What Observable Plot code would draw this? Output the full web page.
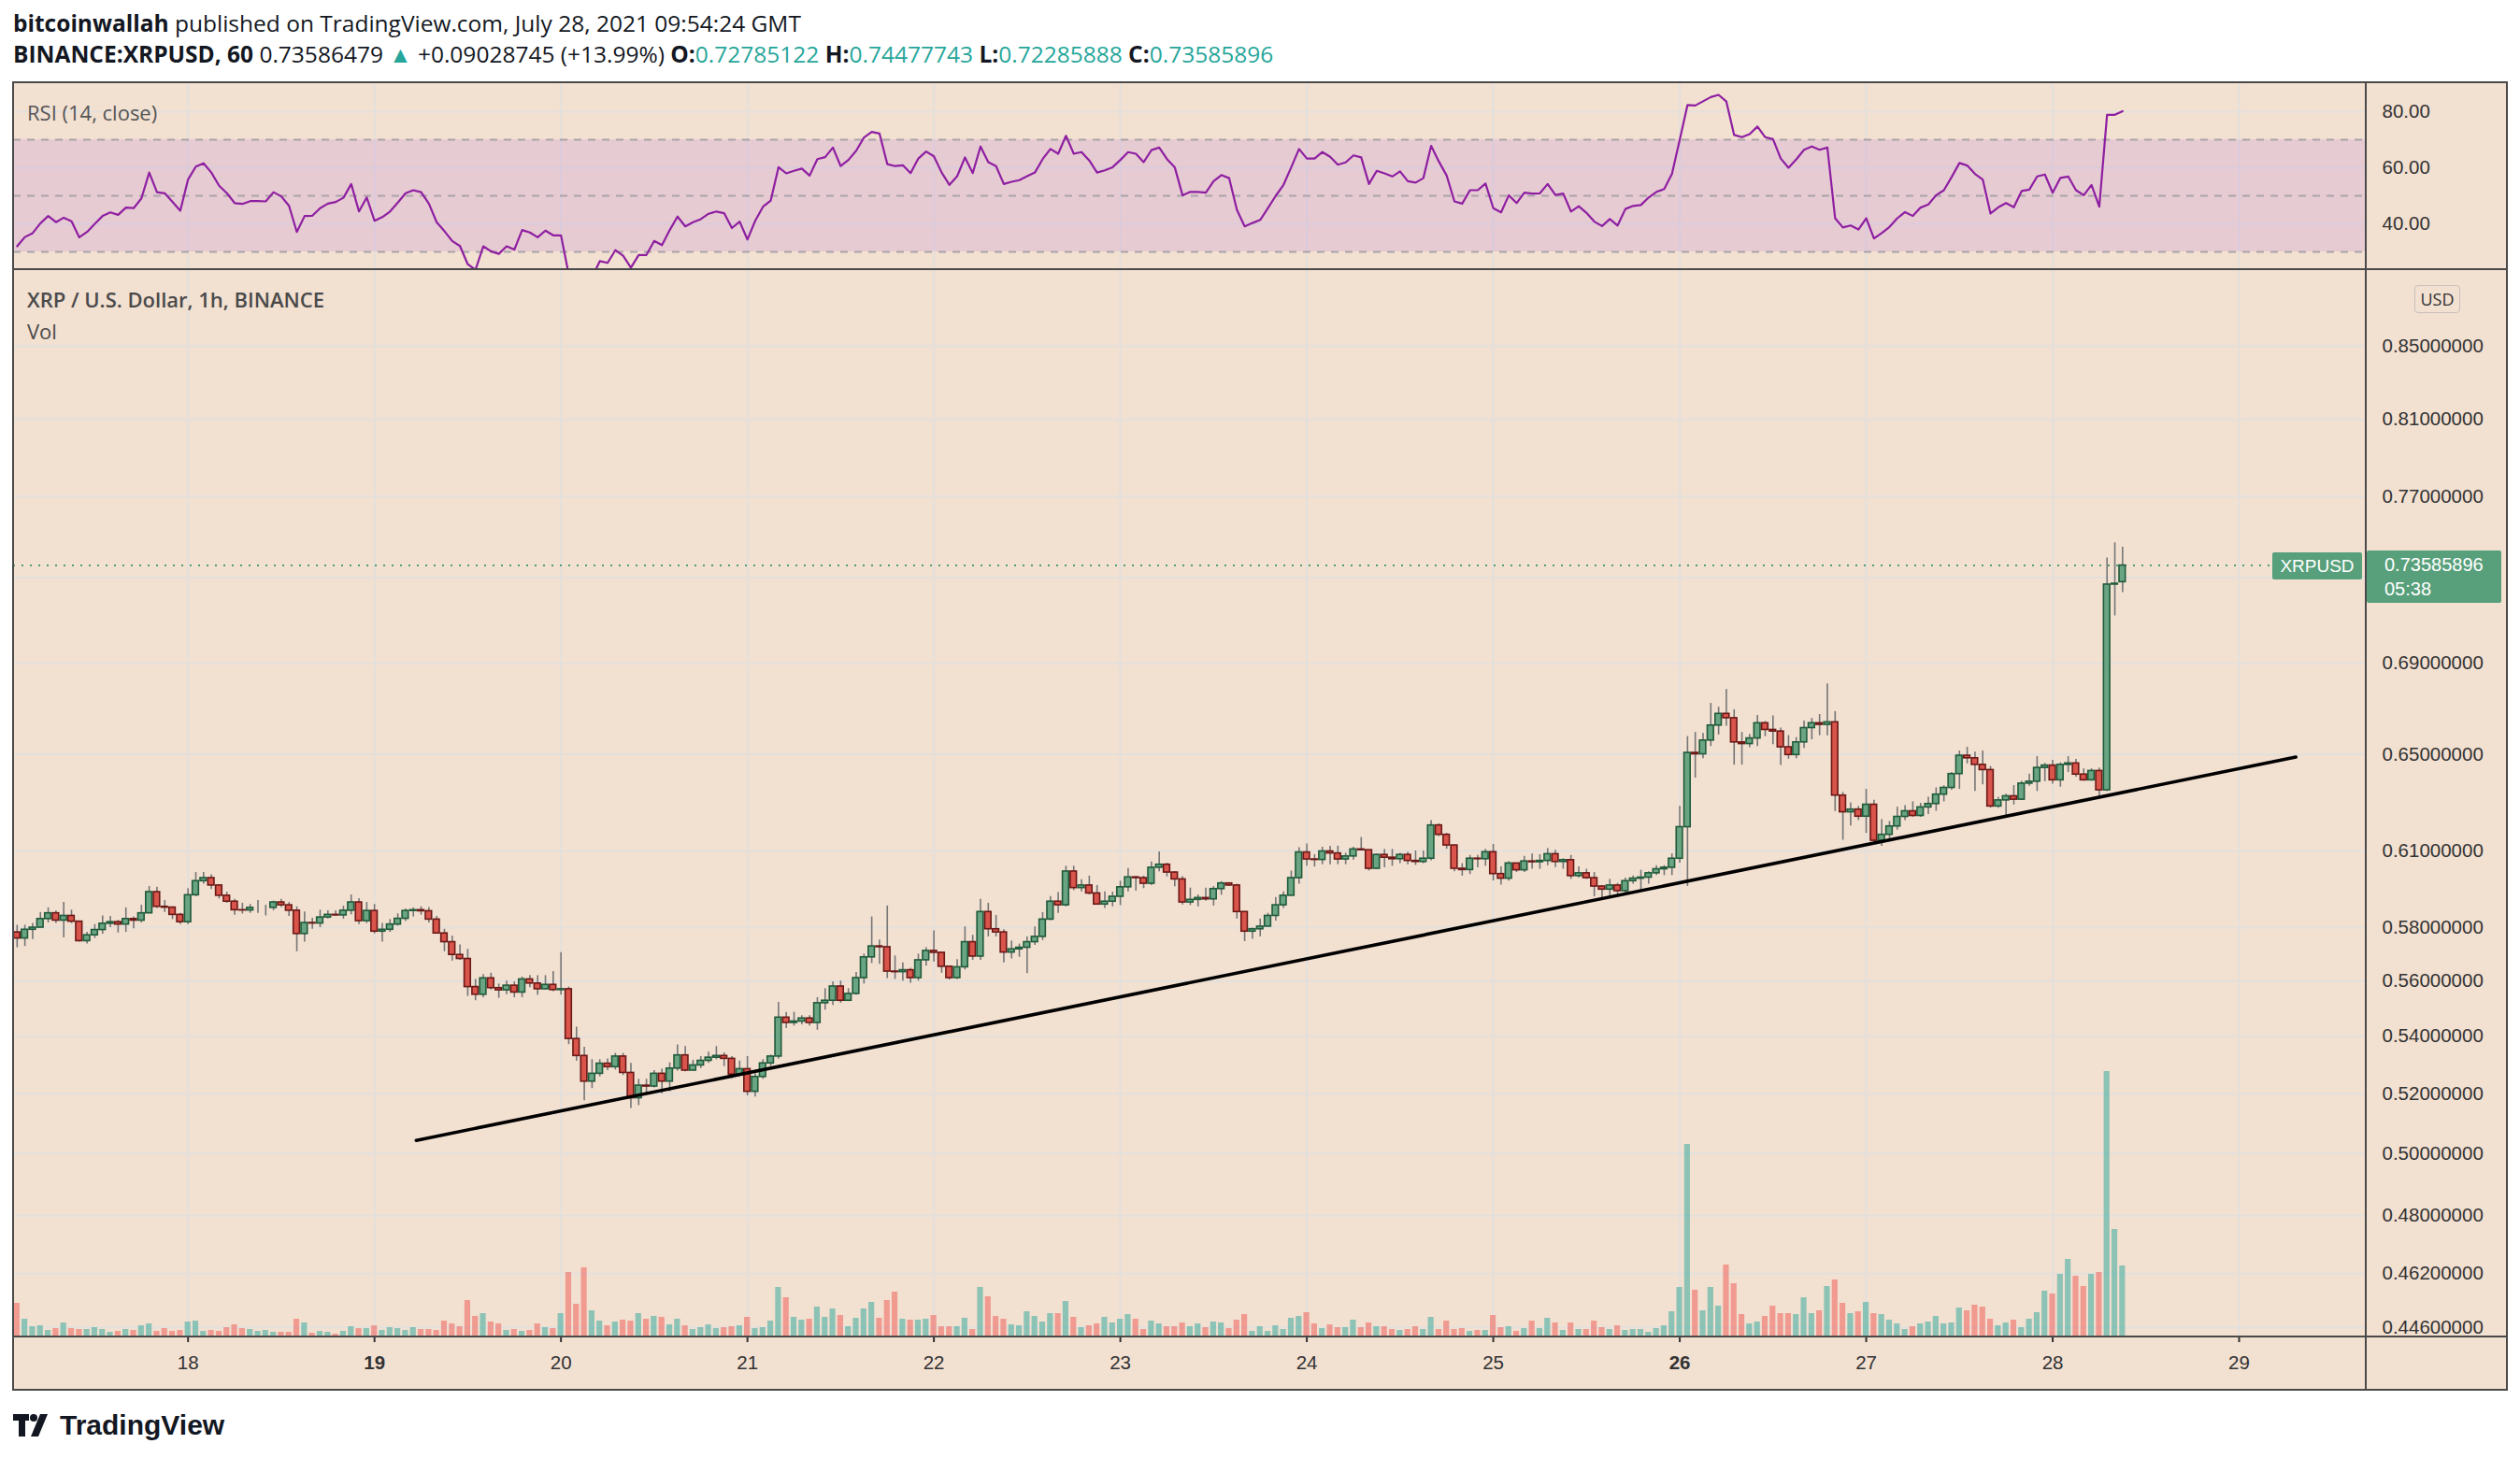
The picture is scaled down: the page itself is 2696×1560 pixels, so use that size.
<!DOCTYPE html>
<html><head><meta charset="utf-8">
<script src="https://cdn.jsdelivr.net/npm/d3@7"></script>
<script src="https://cdn.jsdelivr.net/npm/@observablehq/plot@0.6"></script>
<style>
html,body{margin:0;padding:0;background:#ffffff;}
body{width:2696px;height:1560px;position:relative;overflow:hidden;font-family:"Open Sans","Liberation Sans",sans-serif;color:#131722;}
.abs{position:absolute;}
.hl{position:absolute;background:#4a4a4a;}
svg{overflow:visible;}
</style></head><body>
<div class="abs" style="left:14px;top:8px;font-size:24.5px;white-space:nowrap;"><b>bitcoinwallah</b> published on TradingView.com, July 28, 2021 09:54:24 GMT</div>
<div class="abs" style="left:14px;top:41px;font-size:24.5px;white-space:nowrap;"><b>BINANCE:XRPUSD, 60</b> 0.73586479 <span style="color:#26a69a">▲</span> +0.09028745 (+13.99%) <b>O:</b><span style="color:#26a69a">0.72785122</span> <b>H:</b><span style="color:#26a69a">0.74477743</span> <b>L:</b><span style="color:#26a69a">0.72285888</span> <b>C:</b><span style="color:#26a69a">0.73585896</span></div>
<div class="abs" style="left:14px;top:89px;width:2668px;height:1398px;background:#f2e0d1;"></div>
<div id="rsi" class="abs" style="left:14px;top:89px;"></div>
<div id="base" class="abs" style="left:14px;top:288px;"></div>
<div id="vol" class="abs" style="left:14px;top:288px;"></div>
<div id="main" class="abs" style="left:14px;top:288px;"></div>
<div class="hl" style="left:13px;top:87px;width:2670px;height:2px;"></div>
<div class="hl" style="left:13px;top:1486px;width:2670px;height:2px;"></div>
<div class="hl" style="left:13px;top:87px;width:2px;height:1401px;"></div>
<div class="hl" style="left:2681px;top:87px;width:2px;height:1401px;"></div>
<div class="hl" style="left:13px;top:287px;width:2670px;height:2px;"></div>
<div class="hl" style="left:13px;top:1429px;width:2670px;height:2px;"></div>
<div class="hl" style="left:2530px;top:87px;width:2px;height:1401px;"></div>
<div class="abs" style="left:29px;top:105px;font-size:22px;color:#555;">RSI (14, close)</div>
<div class="abs" style="left:29px;top:305px;font-size:22px;color:#4a4a4a;font-weight:600;">XRP / U.S. Dollar, 1h, BINANCE</div>
<div class="abs" style="left:29px;top:339px;font-size:22px;color:#4a4a4a;">Vol</div>
<div class="abs" style="left:2583px;top:305px;width:47px;height:28px;border:1px solid #c9c1ba;border-radius:4px;font-size:18px;line-height:28px;text-align:center;color:#333;">USD</div>
<div id="lbl"></div>
<div class="abs" style="left:14px;top:1508px;display:flex;align-items:center;">
<svg width="44" height="28" viewBox="0 0 44 28"><rect x="0" y="2" width="17" height="7" fill="#131722"/><rect x="6" y="2" width="7" height="24" fill="#131722"/><circle cx="22" cy="6" r="4" fill="#131722"/><polygon points="29,2 37,2 27,26 19,26" fill="#131722"/></svg>
<span style="font-family:'Liberation Sans',Arial,sans-serif;font-weight:700;font-size:30px;margin-left:6px;color:#131722;">TradingView</span></div>
<script>
const open = [
0.5782,0.5759,0.5792,0.5800,0.5833,0.5855,0.5827,0.5845,0.5823,0.5749,
0.5771,0.5791,0.5815,0.5821,0.5812,0.5833,0.5827,0.5855,0.5937,0.5880,
0.5877,0.5849,0.5821,0.5925,0.5980,0.5992,0.5963,0.5923,0.5900,0.5867,
0.5866,0.5876,0.5876,0.5876,0.5897,0.5886,0.5865,0.5776,0.5818,0.5816,
0.5839,0.5849,0.5847,0.5865,0.5897,0.5825,0.5864,0.5785,0.5792,0.5812,
0.5834,0.5864,0.5867,0.5863,0.5831,0.5778,0.5745,0.5697,0.5682,0.5578,
0.5550,0.5610,0.5574,0.5566,0.5583,0.5558,0.5606,0.5591,0.5570,0.5586,
0.5567,0.5570,0.5391,0.5331,0.5242,0.5269,0.5304,0.5292,0.5329,0.5272,
0.5185,0.5228,0.5225,0.5269,0.5242,0.5287,0.5333,0.5280,0.5298,0.5314,
0.5325,0.5331,0.5321,0.5266,0.5285,0.5207,0.5258,0.5305,0.5329,0.5467,
0.5448,0.5453,0.5464,0.5448,0.5519,0.5528,0.5580,0.5528,0.5553,0.5611,
0.5688,0.5729,0.5726,0.5635,0.5633,0.5640,0.5611,0.5677,0.5712,0.5705,
0.5653,0.5611,0.5651,0.5745,0.5691,0.5860,0.5794,0.5782,0.5706,0.5718,
0.5724,0.5745,0.5765,0.5831,0.5900,0.5886,0.6018,0.5953,0.5963,0.5932,
0.5889,0.5900,0.5919,0.5956,0.5995,0.5992,0.5970,0.6033,0.6045,0.6014,
0.5987,0.5897,0.5907,0.5914,0.5909,0.5949,0.5971,0.5963,0.5860,0.5785,
0.5794,0.5804,0.5845,0.5886,0.5923,0.5992,0.6094,0.6066,0.6064,0.6098,
0.6090,0.6066,0.6078,0.6106,0.6103,0.6029,0.6084,0.6073,0.6067,0.6084,
0.6060,0.6056,0.6069,0.6203,0.6165,0.6122,0.6029,0.6024,0.6069,0.6067,
0.6095,0.6008,0.5990,0.6050,0.6023,0.6058,0.6055,0.6060,0.6087,0.6056,
0.6063,0.6000,0.6011,0.5992,0.5959,0.5947,0.5963,0.5941,0.5980,0.5990,
0.5994,0.6011,0.6027,0.6033,0.6069,0.6196,0.6506,0.6500,0.6559,0.6624,
0.6675,0.6656,0.6551,0.6544,0.6568,0.6634,0.6605,0.6598,0.6530,0.6497,
0.6551,0.6613,0.6634,0.6627,0.6638,0.6326,0.6257,0.6268,0.6239,0.6288,
0.6141,0.6165,0.6199,0.6238,0.6261,0.6242,0.6277,0.6291,0.6330,0.6358,
0.6416,0.6494,0.6483,0.6455,0.6433,0.6281,0.6306,0.6323,0.6309,0.6376,
0.6384,0.6442,0.6452,0.6390,0.6455,0.6461,0.6414,0.6390,0.6429,0.6348,
0.7267,0.72785122];
const high = [
0.5809,0.5809,0.5816,0.5858,0.5876,0.5865,0.5897,0.5867,0.5825,0.5782,
0.5812,0.5845,0.5843,0.5828,0.5876,0.5841,0.5886,0.5959,0.5956,0.5904,
0.5880,0.5855,0.5951,0.6014,0.6014,0.6005,0.5965,0.5937,0.5909,0.5894,
0.5889,0.5904,0.5886,0.5902,0.5909,0.5897,0.5880,0.5860,0.5836,0.5867,
0.5865,0.5865,0.5882,0.5926,0.5912,0.5897,0.5889,0.5816,0.5831,0.5853,
0.5872,0.5876,0.5880,0.5877,0.5843,0.5794,0.5768,0.5735,0.5718,0.5606,
0.5624,0.5629,0.5589,0.5600,0.5597,0.5615,0.5620,0.5620,0.5620,0.5635,
0.5706,0.5578,0.5433,0.5362,0.5318,0.5318,0.5321,0.5340,0.5340,0.5305,
0.5250,0.5250,0.5280,0.5285,0.5307,0.5370,0.5364,0.5316,0.5329,0.5344,
0.5364,0.5342,0.5329,0.5313,0.5329,0.5269,0.5318,0.5334,0.5522,0.5486,
0.5486,0.5474,0.5474,0.5539,0.5572,0.5597,0.5600,0.5572,0.5632,0.5700,
0.5841,0.5753,0.5883,0.5693,0.5667,0.5647,0.5700,0.5724,0.5788,0.5702,
0.5655,0.5679,0.5803,0.5771,0.5909,0.5894,0.5847,0.5792,0.5749,0.5738,
0.5765,0.5803,0.5858,0.5920,0.5935,0.6039,0.6039,0.5986,0.6000,0.5963,
0.5938,0.5937,0.5980,0.6030,0.5998,0.6000,0.6056,0.6096,0.6051,0.6017,
0.5998,0.5953,0.5926,0.5953,0.5959,0.5978,0.5974,0.5968,0.5861,0.5798,
0.5833,0.5855,0.5916,0.5938,0.6020,0.6113,0.6128,0.6085,0.6115,0.6119,
0.6119,0.6091,0.6115,0.6154,0.6102,0.6088,0.6106,0.6106,0.6090,0.6094,
0.6100,0.6100,0.6223,0.6210,0.6171,0.6123,0.6049,0.6082,0.6082,0.6106,
0.6126,0.6036,0.6057,0.6051,0.6078,0.6088,0.6085,0.6110,0.6103,0.6069,
0.6082,0.6036,0.6027,0.6014,0.5963,0.5987,0.5971,0.5992,0.6000,0.6023,
0.6017,0.6041,0.6041,0.6088,0.6281,0.6576,0.6594,0.6590,0.6721,0.6704,
0.6783,0.6693,0.6594,0.6586,0.6668,0.6641,0.6666,0.6613,0.6580,0.6572,
0.6643,0.6655,0.6672,0.6808,0.6685,0.6339,0.6296,0.6281,0.6352,0.6306,
0.6227,0.6219,0.6278,0.6284,0.6300,0.6294,0.6319,0.6358,0.6367,0.6423,
0.6514,0.6530,0.6509,0.6514,0.6448,0.6319,0.6332,0.6368,0.6386,0.6416,
0.6490,0.6461,0.6474,0.6464,0.6490,0.6478,0.6438,0.6438,0.6442,0.7395,
0.7469,0.74477743];
const low = [
0.5724,0.5729,0.5755,0.5800,0.5818,0.5816,0.5761,0.5816,0.5745,0.5738,
0.5759,0.5775,0.5800,0.5780,0.5782,0.5796,0.5818,0.5859,0.5874,0.5858,
0.5831,0.5812,0.5812,0.5919,0.5968,0.5947,0.5910,0.5894,0.5848,0.5852,
0.5855,0.5855,0.5845,0.5865,0.5877,0.5843,0.5709,0.5745,0.5794,0.5800,
0.5833,0.5843,0.5833,0.5849,0.5812,0.5816,0.5776,0.5745,0.5782,0.5806,
0.5823,0.5841,0.5848,0.5818,0.5775,0.5709,0.5674,0.5677,0.5544,0.5528,
0.5539,0.5567,0.5537,0.5550,0.5539,0.5539,0.5576,0.5548,0.5567,0.5561,
0.5548,0.5371,0.5313,0.5176,0.5218,0.5258,0.5280,0.5282,0.5263,0.5150,
0.5160,0.5198,0.5220,0.5200,0.5207,0.5278,0.5276,0.5280,0.5287,0.5305,
0.5318,0.5294,0.5252,0.5261,0.5193,0.5189,0.5250,0.5294,0.5320,0.5428,
0.5437,0.5441,0.5437,0.5422,0.5494,0.5511,0.5519,0.5526,0.5548,0.5589,
0.5665,0.5662,0.5609,0.5606,0.5600,0.5592,0.5600,0.5655,0.5671,0.5629,
0.5604,0.5606,0.5641,0.5677,0.5677,0.5765,0.5765,0.5667,0.5682,0.5688,
0.5627,0.5733,0.5751,0.5827,0.5855,0.5880,0.5943,0.5938,0.5926,0.5887,
0.5874,0.5880,0.5885,0.5938,0.5941,0.5951,0.5963,0.6017,0.5997,0.5958,
0.5887,0.5885,0.5880,0.5902,0.5883,0.5925,0.5959,0.5833,0.5747,0.5756,
0.5765,0.5804,0.5825,0.5874,0.5923,0.5968,0.6039,0.6036,0.6045,0.6045,
0.6045,0.6045,0.6063,0.6100,0.6020,0.6027,0.6033,0.6039,0.6049,0.6045,
0.6042,0.6049,0.6061,0.6158,0.6107,0.6017,0.6000,0.6006,0.6033,0.6039,
0.5981,0.5965,0.5980,0.6014,0.6014,0.6027,0.6027,0.6041,0.6034,0.6027,
0.5987,0.5992,0.5987,0.5919,0.5907,0.5919,0.5923,0.5923,0.5968,0.5941,
0.5968,0.6002,0.6002,0.6002,0.6051,0.5959,0.6399,0.6481,0.6533,0.6583,
0.6621,0.6454,0.6454,0.6528,0.6533,0.6576,0.6541,0.6452,0.6479,0.6481,
0.6525,0.6562,0.6580,0.6580,0.6260,0.6143,0.6201,0.6223,0.6171,0.6131,
0.6119,0.6139,0.6184,0.6223,0.6236,0.6236,0.6248,0.6261,0.6300,0.6348,
0.6352,0.6459,0.6343,0.6371,0.6274,0.6274,0.6232,0.6287,0.6306,0.6365,
0.6343,0.6384,0.6374,0.6361,0.6423,0.6403,0.6386,0.6386,0.6319,0.6343,
0.7119,0.72285888];
const close = [
0.5759,0.5792,0.5800,0.5833,0.5855,0.5827,0.5845,0.5823,0.5749,0.5771,
0.5791,0.5815,0.5821,0.5812,0.5833,0.5827,0.5855,0.5937,0.5880,0.5877,
0.5849,0.5821,0.5925,0.5980,0.5992,0.5963,0.5923,0.5900,0.5867,0.5866,
0.5876,0.5876,0.5876,0.5897,0.5886,0.5865,0.5776,0.5818,0.5816,0.5839,
0.5849,0.5847,0.5865,0.5897,0.5825,0.5864,0.5785,0.5792,0.5812,0.5834,
0.5864,0.5867,0.5863,0.5831,0.5778,0.5745,0.5697,0.5682,0.5578,0.5550,
0.5610,0.5574,0.5566,0.5583,0.5558,0.5606,0.5591,0.5570,0.5586,0.5567,
0.5570,0.5391,0.5331,0.5242,0.5269,0.5304,0.5292,0.5329,0.5272,0.5185,
0.5228,0.5225,0.5269,0.5242,0.5287,0.5333,0.5280,0.5298,0.5314,0.5325,
0.5331,0.5321,0.5266,0.5285,0.5207,0.5258,0.5305,0.5329,0.5467,0.5448,
0.5453,0.5464,0.5448,0.5519,0.5528,0.5580,0.5528,0.5553,0.5611,0.5688,
0.5729,0.5726,0.5635,0.5633,0.5640,0.5611,0.5677,0.5712,0.5705,0.5653,
0.5611,0.5651,0.5745,0.5691,0.5860,0.5794,0.5782,0.5706,0.5718,0.5724,
0.5745,0.5765,0.5831,0.5900,0.5886,0.6018,0.5953,0.5963,0.5932,0.5889,
0.5900,0.5919,0.5956,0.5995,0.5992,0.5970,0.6033,0.6045,0.6014,0.5987,
0.5897,0.5907,0.5914,0.5909,0.5949,0.5971,0.5963,0.5860,0.5785,0.5794,
0.5804,0.5845,0.5886,0.5923,0.5992,0.6094,0.6066,0.6064,0.6098,0.6090,
0.6066,0.6078,0.6106,0.6103,0.6029,0.6084,0.6073,0.6067,0.6084,0.6060,
0.6056,0.6069,0.6203,0.6165,0.6122,0.6029,0.6024,0.6069,0.6067,0.6095,
0.6008,0.5990,0.6050,0.6023,0.6058,0.6055,0.6060,0.6087,0.6056,0.6063,
0.6000,0.6011,0.5992,0.5959,0.5947,0.5963,0.5941,0.5980,0.5990,0.5994,
0.6011,0.6027,0.6033,0.6069,0.6196,0.6506,0.6500,0.6559,0.6624,0.6675,
0.6656,0.6551,0.6544,0.6568,0.6634,0.6605,0.6598,0.6530,0.6497,0.6551,
0.6613,0.6634,0.6627,0.6638,0.6326,0.6257,0.6268,0.6239,0.6288,0.6141,
0.6165,0.6199,0.6238,0.6261,0.6242,0.6277,0.6291,0.6330,0.6358,0.6416,
0.6494,0.6483,0.6455,0.6433,0.6281,0.6306,0.6323,0.6309,0.6376,0.6384,
0.6442,0.6452,0.6390,0.6455,0.6461,0.6414,0.6390,0.6429,0.6348,0.7267,
0.7271,0.73585896];
const volume = [
108,57,33,36,21,27,45,27,24,24,
30,24,15,18,24,21,36,42,18,27,
18,21,48,51,18,21,18,30,39,27,
24,18,21,15,15,15,57,45,12,18,
15,9,18,33,27,27,36,21,30,27,
21,30,24,24,21,51,42,33,117,66,
75,48,42,21,24,18,21,42,30,27,
75,207,105,222,84,51,36,48,54,51,
75,57,66,63,39,57,36,24,30,39,
27,30,33,36,63,27,30,51,159,126,
63,54,57,96,63,90,69,33,60,90,
111,60,117,144,57,54,54,57,69,33,
33,33,60,24,159,129,66,57,39,36,
81,66,48,75,75,114,63,30,36,42,
63,45,57,72,57,24,51,42,33,33,
45,33,42,30,48,45,27,54,72,18,
33,18,36,24,60,66,78,42,27,39,
30,30,54,30,45,33,33,24,21,24,
33,24,63,24,51,24,27,18,21,21,
69,30,33,18,27,51,27,60,45,21,
45,24,24,51,30,24,36,21,24,24,
15,27,36,81,159,618,150,84,159,99,
231,171,72,42,48,66,99,75,75,72,
126,75,84,162,183,108,75,81,111,75,
72,54,42,24,33,42,48,66,42,45,
93,84,102,96,57,36,45,54,30,57,
78,147,138,201,249,195,162,201,207,852,
345,228];
const rsi = [
32.0,35.3,36.7,40.2,42.8,40.6,42.2,40.9,35.2,37.1,
40.0,42.8,44.1,43.2,45.8,45.6,49.1,58.3,51.3,50.9,
47.8,44.7,55.8,60.4,61.6,58.3,53.6,50.9,47.4,47.1,
48.1,48.1,48.0,51.3,49.8,46.4,37.1,42.8,42.9,45.6,
47.2,47.8,49.3,54.2,44.4,49.4,41.1,42.4,44.4,47.6,
50.9,52.0,51.3,47.2,40.6,37.4,33.9,32.1,25.6,23.6,
32.0,30.2,29.3,32.0,30.8,37.8,36.9,35.2,37.6,35.9,
35.9,22.0,17.0,12.5,21.0,26.7,26.1,30.6,28.6,24.4,
28.9,28.9,33.9,32.4,37.8,42.6,39.1,40.6,41.7,43.6,
44.4,43.8,38.5,40.8,34.4,41.1,46.1,48.3,60.2,58.0,
58.9,59.7,57.2,63.1,63.8,67.2,60.6,62.8,66.1,70.8,
72.8,72.2,61.3,60.6,60.9,58.1,63.3,65.8,64.1,58.3,
53.9,57.0,63.7,58.1,67.6,62.0,60.6,54.2,55.0,55.6,
57.0,58.3,63.1,66.7,65.0,71.4,65.0,65.6,62.6,58.3,
59.1,60.2,62.8,65.6,65.0,62.0,66.3,67.2,63.1,60.2,
50.2,51.4,51.4,51.1,55.2,57.4,56.3,45.0,39.1,40.3,
41.4,45.6,50.0,53.9,60.2,66.7,63.3,63.3,65.6,63.9,
61.1,61.9,64.4,63.7,54.2,58.9,58.0,56.9,58.7,55.2,
54.7,56.3,67.8,62.2,57.2,48.0,47.2,52.0,52.0,54.4,
45.6,44.1,50.2,47.4,51.1,50.8,50.9,54.2,50.3,50.8,
44.4,46.3,43.9,40.8,39.2,41.7,39.4,45.3,46.4,46.7,
49.4,51.4,52.4,57.8,70.0,82.4,82.2,83.7,85.2,86.0,
83.6,71.7,70.9,72.0,74.7,70.9,70.2,63.3,60.0,63.0,
66.4,67.6,66.4,67.2,42.0,38.7,39.4,38.0,42.0,34.8,
36.7,38.9,42.0,44.2,42.8,45.8,46.9,50.2,52.0,56.7,
61.7,60.8,57.8,55.8,43.7,45.9,47.4,45.9,51.7,52.2,
56.9,57.6,51.1,56.4,56.9,52.0,50.2,53.9,46.1,78.9,
78.9,80.2];
const priceTicks = [0.446,0.462,0.48,0.50,0.52,0.54,0.56,0.58,0.61,0.65,0.69,0.77,0.81,0.85];
const priceGridValues = [0.446,0.462,0.48,0.50,0.52,0.54,0.56,0.58,0.61,0.65,0.69,0.73,0.77,0.81,0.85];
const rsiTicks = [40,60,80];
const rsiBands = [30,50,70];
const boldDays = ["2021-07-19","2021-07-26"];
const trendTimes = ["2021-07-19T05:22Z","2021-07-29T07:18Z"];
const trendPrices = [0.5043,0.6488];

const HOUR = 3600e3;
const times = d3.utcHour.range(new Date("2021-07-17T02:00Z"), new Date("2021-07-28T10:00Z"));
const candles = times.map((t,i)=>({t, open:open[i], high:high[i], low:low[i], close:close[i], volume:volume[i], rsi:rsi[i], up: close[i]>=open[i]}));
const xDomain = [new Date(+times[0]-0.46*HOUR), new Date(+times[0]+302.36*HOUR)];
const days = d3.utcDay.range(new Date("2021-07-18T00:00Z"), new Date("2021-07-30T00:00Z"));
const boldSet = new Set(boldDays);
const daysBold = days.filter(d=>boldSet.has(d.toISOString().slice(0,10)));
const daysNormal = days.filter(d=>!boldSet.has(d.toISOString().slice(0,10)));
const trend = trendTimes.map((t,i)=>({t:new Date(t), p:trendPrices[i]}));
const lastClose = close[close.length-1];

const W = 2668, MR = 151;
const GRID = "#e3e0dc";
const FONT = "'Liberation Sans', Arial, sans-serif";
const style = {background:"transparent", fontFamily:FONT, fontSize:"20.5px", overflow:"visible"};
const xScale = {type:"utc", domain:xDomain, label:null};
const yPrice = {type:"log", domain:[0.4432,0.8938], label:null};
const half = 0.4*HOUR, vhalf = 0.37*HOUR;

// RSI pane
const rsiPlot = Plot.plot({
  width:W, height:199, marginTop:0, marginBottom:0, marginLeft:0, marginRight:MR,
  style, x:{...xScale, axis:null}, y:{domain:[23.67,90], label:null},
  marks:[
    Plot.gridY(rsiTicks, {stroke:GRID, strokeOpacity:1, strokeWidth:2}),
    Plot.gridX(days, {stroke:GRID, strokeOpacity:1, strokeWidth:2}),
    Plot.rect([{}], {x1:()=>xDomain[0], x2:()=>xDomain[1], y1:()=>rsiBands[0], y2:()=>rsiBands[2], fill:"#a040e0", fillOpacity:0.13}),
    Plot.ruleY(rsiBands, {stroke:"#a9a3a8", strokeWidth:2, strokeDasharray:"8,7"}),
    Plot.line(candles, {x:"t", y:"rsi", stroke:"#8e1fa1", strokeWidth:2.2, clip:true}),
    Plot.axisY(rsiTicks, {anchor:"right", label:null, tickSize:0, tickPadding:17, tickFormat:d3.format(".2f"), color:"#333", fontSize:20.5, textAnchor:"start"})
  ]
});
document.getElementById("rsi").append(rsiPlot);

// base layer: grid + axes
const base = Plot.plot({
  width:W, height:1199, marginTop:0, marginBottom:57, marginLeft:0, marginRight:MR,
  style, x:xScale, y:yPrice,
  marks:[
    Plot.gridY(priceGridValues, {stroke:GRID, strokeOpacity:1, strokeWidth:2}),
    Plot.gridX(days, {stroke:GRID, strokeOpacity:1, strokeWidth:2}),
    Plot.axisY(priceTicks, {anchor:"right", label:null, tickSize:0, tickPadding:17, tickFormat:d3.format(".8f"), color:"#333", fontSize:20.5, textAnchor:"start"}),
    Plot.axisX(daysNormal, {anchor:"bottom", label:null, tickSize:6, tickPadding:14, tickFormat:d3.utcFormat("%-d"), color:"#333", fontSize:20.5, strokeWidth:2}),
    Plot.axisX(daysBold, {anchor:"bottom", label:null, tickSize:6, tickPadding:14, tickFormat:d3.utcFormat("%-d"), color:"#333", fontSize:20.5, fontWeight:"bold", strokeWidth:2})
  ]
});
document.getElementById("base").append(base);

// volume overlay
const volPlot = Plot.plot({
  width:W, height:1142, marginTop:0, marginBottom:0, marginLeft:0, marginRight:MR,
  style, x:{...xScale, axis:null}, y:{domain:[0,3426], axis:null},
  marks:[
    Plot.rect(candles, {x1:d=>new Date(+d.t-vhalf), x2:d=>new Date(+d.t+vhalf), y1:0, y2:"volume", fill:d=>d.up?"#26a69a":"#ef5350", fillOpacity:0.5})
  ]
});
document.getElementById("vol").append(volPlot);

// main candles
const main = Plot.plot({
  width:W, height:1199, marginTop:0, marginBottom:57, marginLeft:0, marginRight:MR,
  style, x:{...xScale, axis:null}, y:{...yPrice, axis:null},
  marks:[
    Plot.ruleY([lastClose], {stroke:"#4f9d78", strokeWidth:2, strokeDasharray:"2,7"}),
    Plot.ruleX(candles, {x:"t", y1:"low", y2:"high", stroke:"#767676", strokeWidth:1.6, clip:true}),
    Plot.rect(candles, {x1:d=>new Date(+d.t-half), x2:d=>new Date(+d.t+half), y1:"open", y2:"close",
      fill:d=>d.up?"#6aa583":"#d9544a", stroke:d=>d.up?"#1f5a3a":"#6b1816", strokeWidth:1.6, clip:true}),
    Plot.line(trend, {x:"t", y:"p", stroke:"#000", strokeWidth:3.6})
  ]
});
document.getElementById("main").append(main);

// price labels on the axis
const yLast = 288 + main.scale("y").apply(lastClose);
const lbl = document.getElementById("lbl");
lbl.innerHTML =
 `<div class="abs" style="left:2532px;top:${yLast-16}px;width:144px;height:56px;background:#58a07b;border-radius:2px;color:#fff;font-family:${FONT};font-size:20px;">
   <div style="position:absolute;left:19px;top:4px;">${d3.format(".8f")(lastClose)}</div>
   <div style="position:absolute;left:19px;top:30px;">05:38</div></div>
  <div class="abs" style="left:2431px;top:${yLast-14}px;width:96px;height:29px;background:#58a07b;border-radius:2px;color:#fff;font-family:${FONT};font-size:19px;line-height:29px;text-align:center;">XRPUSD</div>`;
</script>
</body></html>
